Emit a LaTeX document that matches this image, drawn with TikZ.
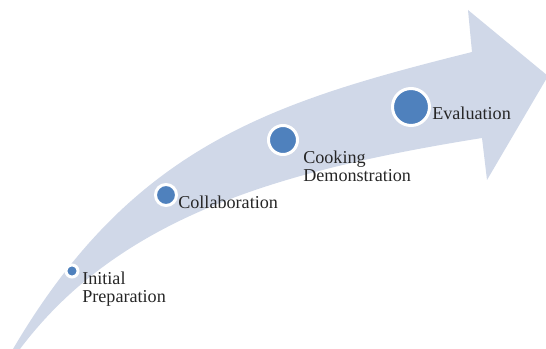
\documentclass[tikz,border=0pt]{standalone}
\usepackage{fontspec}
\setmainfont{Liberation Serif}
\definecolor{bandcol}{HTML}{D0D8E8}
\definecolor{dotcol}{HTML}{4F81BD}
\definecolor{txtcol}{HTML}{262626}
\begin{document}
\begin{tikzpicture}[x=0.75pt,y=-0.75pt,
  dot/.style={circle,draw=white,line width=2.25pt,fill=dotcol,inner sep=0pt},
  lbl/.style={anchor=north west,inner sep=0pt,align=left,text=txtcol,
    font=\fontsize{13.6pt}{13.4pt}\selectfont}]
\useasboundingbox (0,0) rectangle (546,349);
\clip (0,0) rectangle (546,349);
\fill[bandcol] (1,372) -- (13,349) .. controls (133,145) and (272,102) .. (472,52)
  -- (468,10) -- (548,76) -- (487,180) -- (482,138)
  .. controls (282,170) and (120,216) .. (20,349) -- cycle;
\node[dot,minimum size=9pt] (d1) at (72,271) {};
\node[dot,minimum size=15.75pt] (d2) at (166,195) {};
\node[dot,minimum size=21.75pt] (d3) at (283,140) {};
\node[dot,minimum size=27.75pt] (d4) at (411,107) {};
\node[lbl] (t1) at (82,272) {Initial\\Preparation};
\node[lbl] (t2) at (178,196) {Collaboration};
\node[lbl] (t3) at (303,151) {Cooking\\Demonstration};
\node[lbl] (t4) at (432,107) {Evaluation};
\end{tikzpicture}
\end{document}
